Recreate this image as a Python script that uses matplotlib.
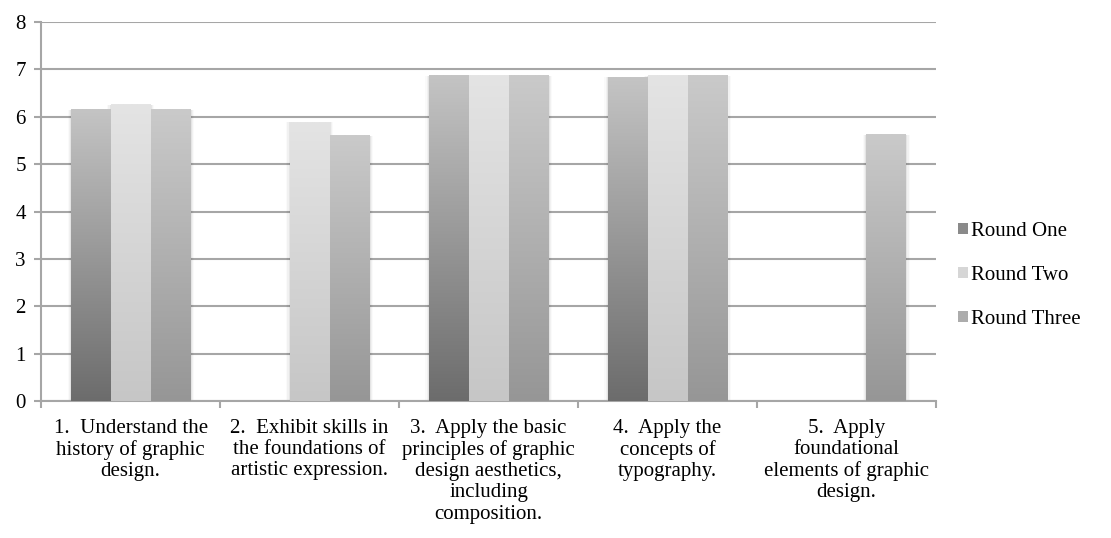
import numpy as np
import matplotlib.pyplot as plt
from matplotlib.patches import Rectangle
from matplotlib.colors import LinearSegmentedColormap

plt.rcParams['font.family'] = ['Liberation Serif', 'DejaVu Serif']

# Chart data
categories = [
    "1.  Understand the\nhistory of graphic\ndesign.",
    "2.  Exhibit skills in\nthe foundations of\nartistic expression.",
    "3.  Apply the basic\nprinciples of graphic\ndesign aesthetics,\nincluding\ncomposition.",
    "4.  Apply the\nconcepts of\ntypography.",
    "5.  Apply\nfoundational\nelements of graphic\ndesign.",
]
series_names = ["Round One", "Round Two", "Round Three"]
round_one = [6.15, 0, 6.87, 6.83, 0]
round_two = [6.25, 5.88, 6.87, 6.87, 0]
round_three = [6.15, 5.6, 6.87, 6.87, 5.62]

# gradient (bottom colour, top colour) for each series
gradients = [("#6c6c6c", "#c4c4c4"), ("#c6c6c6", "#e4e4e4"), ("#969696", "#cacaca")]
legend_cols = ["#8a8a8a", "#d6d6d6", "#acacac"]
grid_col = "#a6a6a6"
fs = 15

fig = plt.figure(figsize=(11.11, 5.38), dpi=100)
ax = fig.add_axes([0.037, 0.2546, 0.8055, 0.7044])

x = np.arange(len(categories))
width = 0.223
grad = np.linspace(0, 1, 256).reshape(-1, 1)

for i, (vals, (c0, c1)) in enumerate(zip([round_one, round_two, round_three], gradients)):
    cmap = LinearSegmentedColormap.from_list(f"g{i}", [c0, c1])
    offs = (i - 1) * width
    for xi, v in zip(x, vals):
        if v <= 0:
            continue
        x0 = xi + offs - width / 2
        # soft shadow at the sides
        for k, a in enumerate([0.05, 0.035, 0.02]):
            d = 0.006 * (k + 1)
            ax.add_patch(Rectangle((x0 - d, 0), width + 2 * d, v,
                                   color="black", alpha=a, lw=0, zorder=2))
        ax.imshow(grad, cmap=cmap, origin="lower", aspect="auto",
                  extent=(x0, x0 + width, 0, v), zorder=3)

ax.set_xlim(-0.5, len(categories) - 0.5)
ax.set_ylim(0, 8)
ax.set_yticks(range(0, 9))
ax.yaxis.grid(True, color=grid_col, lw=1.5)
ax.set_axisbelow(True)

ax.set_xticks(x)
ax.set_xticklabels(categories, fontsize=fs, linespacing=1.15)
ax.tick_params(axis="x", length=0, pad=13)
ax.set_xticks(np.arange(-0.5, len(categories)), minor=True)
ax.tick_params(axis="x", which="minor", length=5, color=grid_col, width=1.5)
ax.tick_params(axis="y", length=5, color=grid_col, width=1.5, labelsize=fs, pad=6)

for s in ["top", "right"]:
    ax.spines[s].set_visible(False)
for s in ["left", "bottom"]:
    ax.spines[s].set_color(grid_col)
    ax.spines[s].set_linewidth(1.5)

handles = [Rectangle((0, 0), 1, 1, facecolor=c, edgecolor="none") for c in legend_cols]
fig.legend(handles, series_names, loc="center left", bbox_to_anchor=(0.845, 0.488),
           frameon=False, fontsize=fs, handlelength=0.5, handleheight=0.5,
           handletextpad=0.15, labelspacing=1.2)

fig.savefig("out.png", dpi=100)
